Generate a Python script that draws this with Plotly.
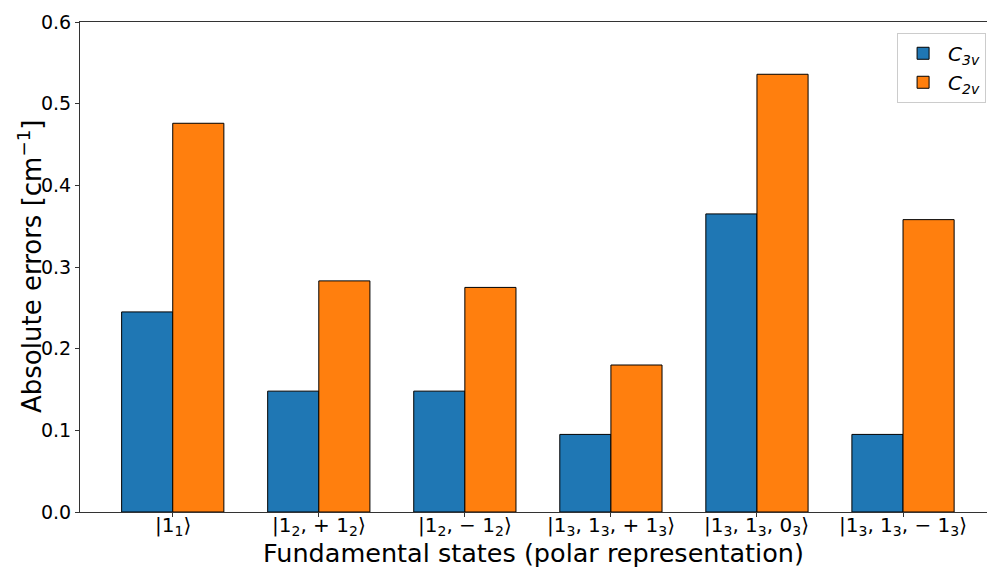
import plotly.graph_objects as go

# Fundamental states (polar representation) and their absolute errors in cm^-1
states = [
    "|1<sub>1</sub>⟩",
    "|1<sub>2</sub>, + 1<sub>2</sub>⟩",
    "|1<sub>2</sub>, − 1<sub>2</sub>⟩",
    "|1<sub>3</sub>, 1<sub>3</sub>, + 1<sub>3</sub>⟩",
    "|1<sub>3</sub>, 1<sub>3</sub>, 0<sub>3</sub>⟩",
    "|1<sub>3</sub>, 1<sub>3</sub>, − 1<sub>3</sub>⟩",
]
err_c3v = [0.245, 0.148, 0.148, 0.095, 0.365, 0.095]
err_c2v = [0.476, 0.283, 0.275, 0.180, 0.536, 0.358]

x_pos = list(range(len(states)))
bar_w = 0.35
font = "DejaVu Sans, Liberation Sans, sans-serif"

fig = go.Figure()
fig.add_trace(go.Bar(
    x=x_pos, y=err_c3v, name="<i>C</i><sub><i>3v</i></sub>",
    width=bar_w, offset=-bar_w,
    marker=dict(color="#1f77b4", line=dict(color="black", width=1)),
))
fig.add_trace(go.Bar(
    x=x_pos, y=err_c2v, name="<i>C</i><sub><i>2v</i></sub>",
    width=bar_w, offset=0,
    marker=dict(color="#ff7f0e", line=dict(color="black", width=1)),
))

# State labels placed under each tick (kept tight to the axis so the
# axis title fits below them)
state_labels = [
    dict(text=s, x=xp, y=0, xref="x", yref="paper",
         xanchor="center", yanchor="top", yshift=0, borderpad=0,
         showarrow=False, font=dict(size=20))
    for xp, s in zip(x_pos, states)
]

fig.update_layout(
    width=987, height=567,
    margin=dict(l=80, r=0, t=22, b=55),
    plot_bgcolor="white", paper_bgcolor="white",
    font=dict(family=font, color="black", size=19),
    barmode="overlay",
    showlegend=True,
    legend=dict(
        x=0.999, y=0.978, xanchor="right", yanchor="top",
        bgcolor="rgba(255,255,255,0.8)", bordercolor="#cccccc", borderwidth=1,
        font=dict(size=20), itemwidth=40, tracegroupgap=6,
    ),
    xaxis=dict(
        range=[-0.635, 5.575],
        tickmode="array", tickvals=x_pos, showticklabels=False,
        showgrid=False, zeroline=False,
        showline=True, linecolor="#333333", linewidth=1, mirror=True,
        ticks="outside", ticklen=4, tickcolor="#333333",
    ),
    yaxis=dict(
        range=[0, 0.6], tickvals=[0, 0.1, 0.2, 0.3, 0.4, 0.5, 0.6],
        tickformat=".1f",
        showgrid=False, zeroline=False,
        showline=True, linecolor="#333333", linewidth=1, mirror=False,
        ticks="outside", ticklen=4, tickcolor="#333333",
        tickfont=dict(size=19),
    ),
    annotations=state_labels + [
        dict(text="Fundamental states (polar representation)",
             x=0.5, y=0, xref="paper", yref="paper",
             xanchor="center", yanchor="middle", yshift=-41, borderpad=0,
             showarrow=False, font=dict(size=25.5)),
        dict(text="Absolute errors [cm<sup>−1</sup>]",
             x=0, y=0.5, xref="paper", yref="paper",
             xanchor="center", yanchor="middle", xshift=-50,
             textangle=-90, showarrow=False, font=dict(size=26)),
    ],
)

fig.write_html("out.html")
